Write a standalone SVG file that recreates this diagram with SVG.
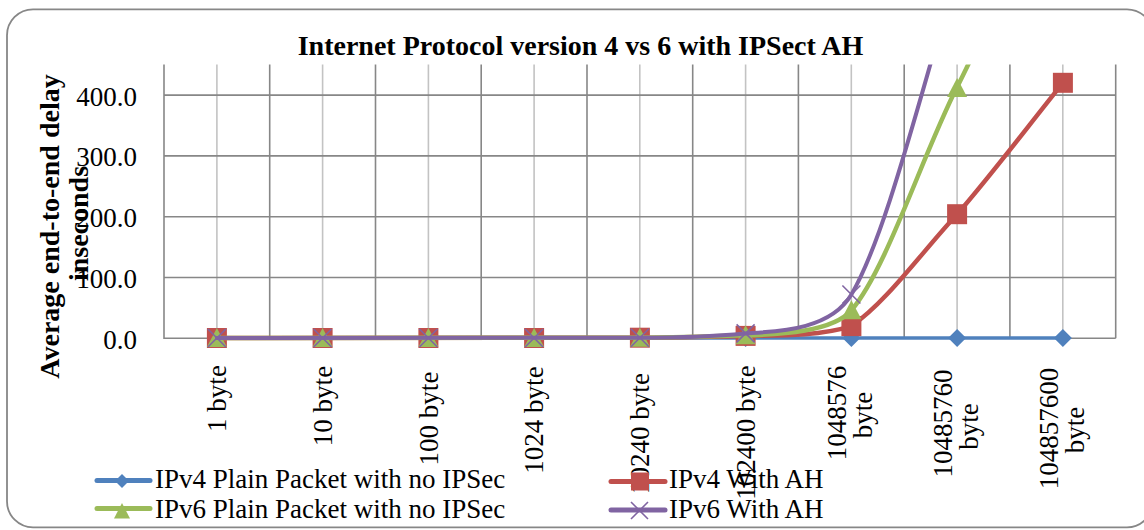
<svg xmlns="http://www.w3.org/2000/svg" xmlns:xlink="http://www.w3.org/1999/xlink" width="1144" height="530" viewBox="0 0 1144 530">
<style>
text{font-family:"Liberation Serif","Times New Roman",serif;fill:#000}
.t{font-size:28px;font-weight:bold}
.lab{font-size:27px}
.gd{stroke:#878787;stroke-width:1.6;fill:none}
.gl{stroke:#C3C3C3;stroke-width:1.6;fill:none}
.ln{fill:none;stroke-linejoin:round;stroke-linecap:round}
.blue{stroke:#4F81BD}
.red{stroke:#C0504D}
.green{stroke:#9BBB59}
.purple{stroke:#8064A2}
.fb{fill:#4F81BD}
.fr{fill:#C0504D}
.fg{fill:#9BBB59}
.px{stroke:#8064A2;stroke-width:1.6;fill:none}
</style>
<defs>
<path id="dia" d="M0,-9 L9,0 L0,9 L-9,0Z"/>
<rect id="sq" x="-10" y="-10" width="20" height="20"/>
<path id="tri" d="M0,-10 L10,9 L-10,9Z"/>
<path id="ex" d="M-9,-9 L9,9 M-9,9 L9,-9"/>
<clipPath id="plot"><rect x="150" y="64.6" width="1000" height="320"/></clipPath>
</defs>
<rect x="0" y="0" width="1144" height="530" fill="#fff"/>
<rect id="frame" x="7" y="9.3" width="1146" height="518" rx="26" ry="26" fill="#fff" stroke="#878787" stroke-width="1.8"/>
<text id="title" class="t" x="580.5" y="55" text-anchor="middle">Internet Protocol version 4 vs 6 with IPSect AH</text>
<g id="grid">
<path class="gl" d="M216.9,64.6V338.3M322.6,64.6V338.3M428.4,64.6V338.3M534.1,64.6V338.3M639.8,64.6V338.3M745.6,64.6V338.3M851.3,64.6V338.3M957.1,64.6V338.3M1062.8,64.6V338.3"/>
<path class="gd" d="M269.7,64.6V338.3M375.5,64.6V338.3M481.2,64.6V338.3M587,64.6V338.3M692.7,64.6V338.3M798.4,64.6V338.3M904.2,64.6V338.3M1009.9,64.6V338.3M1115.7,64.6V338.3"/>
<path class="gd" d="M164,95.1H1115.7M164,155.9H1115.7M164,216.7H1115.7M164,277.5H1115.7"/>
<path class="gd" d="M164,64.6V338.3H1115.7"/>
</g>
<g id="y-axis" class="lab" text-anchor="end">
<text x="137" y="105.6">400.0</text>
<text x="137" y="166.4">300.0</text>
<text x="137" y="227.2">200.0</text>
<text x="137" y="288">100.0</text>
<text x="137" y="348.8">0.0</text>
</g>
<g id="y-title" class="t" text-anchor="middle">
<text transform="translate(58.5,226.5) rotate(-90)">Average end-to-end delay</text>
<text transform="translate(88,223.5) rotate(-90)">inseconds</text>
</g>
<g id="x-axis" class="lab" text-anchor="middle">
<text transform="translate(226,398.5) rotate(-90)">1 byte</text>
<text transform="translate(331.8,406) rotate(-90)">10 byte</text>
<text transform="translate(437.6,418.5) rotate(-90)">100 byte</text>
<text transform="translate(543.3,420) rotate(-90)">1024 byte</text>
<text transform="translate(649.1,433.5) rotate(-90)">10240 byte</text>
<text transform="translate(754.8,432.5) rotate(-90)">102400 byte</text>
<text transform="translate(846.4,413) rotate(-90)">1048576</text>
<text transform="translate(872.4,415) rotate(-90)">byte</text>
<text transform="translate(952.1,423.5) rotate(-90)">10485760</text>
<text transform="translate(978.1,426.5) rotate(-90)">byte</text>
<text transform="translate(1057.9,428.5) rotate(-90)">104857600</text>
<text transform="translate(1083.9,430) rotate(-90)">byte</text>
</g>
<g id="connectors" clip-path="url(#plot)">
<g id="s-ipv4-plain">
<path class="ln blue" stroke-width="3.5" d="M216.9,338 L1062.9,338"/>
<g class="fb">
<use xlink:href="#dia" x="216.9" y="338"/><use xlink:href="#dia" x="322.6" y="338"/><use xlink:href="#dia" x="428.4" y="338"/><use xlink:href="#dia" x="534.1" y="338"/><use xlink:href="#dia" x="639.9" y="338"/><use xlink:href="#dia" x="745.6" y="338"/><use xlink:href="#dia" x="851.4" y="338"/><use xlink:href="#dia" x="957.1" y="338"/><use xlink:href="#dia" x="1062.9" y="338"/>
</g>
</g>
<g id="s-ipv4-ah">
<path class="ln red" stroke-width="4.5" d="M216.9,338 L639.9,337.7 C675,337.7 710,336.8 745.6,335.9 C780.85,335.5 820,336 851.4,326.1 C886.65,302 921.85,252 957.1,214.2 C992.35,173.65 1027.65,126.6 1062.9,82.8"/>
<g class="fr">
<use xlink:href="#sq" x="216.9" y="338"/><use xlink:href="#sq" x="322.6" y="338"/><use xlink:href="#sq" x="428.4" y="338"/><use xlink:href="#sq" x="534.1" y="338"/><use xlink:href="#sq" x="639.9" y="337.7"/><use xlink:href="#sq" x="745.6" y="335.9"/><use xlink:href="#sq" x="851.4" y="326.1"/><use xlink:href="#sq" x="957.1" y="214.2"/><use xlink:href="#sq" x="1062.9" y="82.8"/>
</g>
</g>
<g id="s-ipv6-plain">
<path class="ln green" stroke-width="4.5" d="M216.9,338 L639.9,337.7 C675,337.6 710,336.5 745.6,335.3 C780.85,334.5 833,331.8 851.4,310.3 C886.65,268.9 921.85,156.45 957.1,87.1 C992.35,17.75 1027.65,-73.65 1062.9,-105.8"/>
<g class="fg">
<use xlink:href="#tri" x="216.9" y="338"/><use xlink:href="#tri" x="322.6" y="338"/><use xlink:href="#tri" x="428.4" y="338"/><use xlink:href="#tri" x="534.1" y="338"/><use xlink:href="#tri" x="639.9" y="337.7"/><use xlink:href="#tri" x="745.6" y="335.3"/><use xlink:href="#tri" x="851.4" y="310.3"/><use xlink:href="#tri" x="957.1" y="88"/>
</g>
</g>
<g id="s-ipv6-ah">
<path class="ln purple" stroke-width="4" d="M216.9,338 L639.9,337.7 C680,337.6 715,336.2 745.6,333.4 C775,331.5 830,330.9 851.4,294.5 C886.65,234.5 921.85,87.7 957.1,-26.7"/>
<g class="px">
<use xlink:href="#ex" x="216.9" y="338"/><use xlink:href="#ex" x="322.6" y="338"/><use xlink:href="#ex" x="428.4" y="338"/><use xlink:href="#ex" x="534.1" y="338"/><use xlink:href="#ex" x="639.9" y="337.7"/><use xlink:href="#ex" x="745.6" y="333.4"/><use xlink:href="#ex" x="851.4" y="294.5"/>
</g>
</g>
</g>
<g id="legend">
<g id="leg-ipv4-plain">
<path class="ln blue" stroke-width="5" d="M97,480.5H150"/>
<path class="fb" d="M122,474 L129,481 L122,488 L115,481Z"/>
<text class="lab" x="155" y="488.3">IPv4 Plain Packet with no IPSec</text>
</g>
<g id="leg-ipv6-plain">
<path class="ln green" stroke-width="5" d="M97,508.5H150"/>
<path class="fg" d="M122,503 L130,518.5 L114,518.5Z"/>
<text class="lab" x="155" y="518">IPv6 Plain Packet with no IPSec</text>
</g>
<g id="leg-ipv4-ah">
<path class="ln red" stroke-width="5" d="M611,481.5H665"/>
<rect class="fr" x="631" y="472.5" width="18" height="18"/>
<text class="lab" x="669" y="488.3">IPv4 With AH</text>
</g>
<g id="leg-ipv6-ah">
<path class="ln purple" stroke-width="5" d="M611,510H665"/>
<path class="px" d="M631,502 L648,519 M631,519 L648,502"/>
<text class="lab" x="669" y="518">IPv6 With AH</text>
</g>
</g>
</svg>
